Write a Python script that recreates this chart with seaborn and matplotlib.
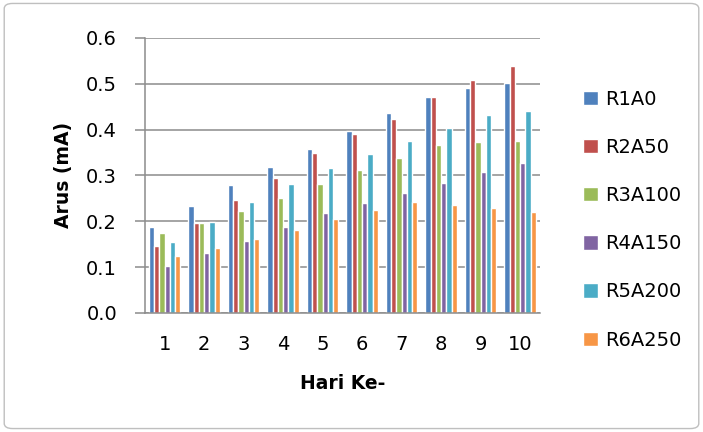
import pandas as pd
import numpy as np
import matplotlib
matplotlib.use("Agg")
import matplotlib.pyplot as plt
import seaborn as sns
from matplotlib.patches import FancyBboxPatch
from matplotlib.ticker import FixedLocator, FormatStrFormatter

# -----------------------------
# Data
# -----------------------------

hari = ["1", "2", "3", "4", "5", "6", "7", "8", "9", "10"]

series_names = ["R1A0", "R2A50", "R3A100", "R4A150", "R5A200", "R6A250"]

r1a0 = [0.188, 0.234, 0.278, 0.319, 0.358, 0.397, 0.436, 0.472, 0.491, 0.502]
r2a50 = [0.146, 0.197, 0.246, 0.295, 0.348, 0.390, 0.422, 0.472, 0.507, 0.539]
r3a100 = [0.174, 0.197, 0.222, 0.251, 0.281, 0.311, 0.339, 0.366, 0.372, 0.374]
r4a150 = [0.102, 0.130, 0.158, 0.188, 0.218, 0.239, 0.262, 0.284, 0.307, 0.328]
r5a200 = [0.155, 0.199, 0.243, 0.282, 0.317, 0.346, 0.374, 0.404, 0.431, 0.441]
r6a250 = [0.124, 0.142, 0.161, 0.182, 0.204, 0.225, 0.241, 0.236, 0.229, 0.221]

colors = ["#4F81BD", "#C0504D", "#9BBB59", "#8064A2", "#4BACC6", "#F79646"]

# -----------------------------
# Long-form table
# -----------------------------

values = [r1a0, r2a50, r3a100, r4a150, r5a200, r6a250]

rows = []
for name, vals in zip(series_names, values):
    for h, v in zip(hari, vals):
        rows.append({"Hari": h, "Seri": name, "Arus": v})

df = pd.DataFrame(rows)

# -----------------------------
# Plot
# -----------------------------

sns.set_style("white")
plt.rcParams['font.family'] = ['DejaVu Sans']
plt.rcParams['text.color'] = 'black'
plt.rcParams['axes.labelcolor'] = 'black'
plt.rcParams['xtick.labelcolor'] = 'black'
plt.rcParams['ytick.labelcolor'] = 'black'

fig = plt.figure(figsize=(7.03, 4.32), dpi=100)
ax = fig.add_axes([0.206, 0.2755, 0.562, 0.637])

sns.barplot(
    data=df,
    x="Hari",
    y="Arus",
    hue="Seri",
    order=hari,
    hue_order=series_names,
    palette=colors,
    width=0.8,
    errorbar=None,
    saturation=1,
    ax=ax,
)

grid_c = "#8c8c8c"

ax.set_ylim(0, 0.6)
ax.set_xlim(-0.5, len(hari) - 0.5)
ax.set_yticks(np.arange(0, 0.61, 0.1))
ax.yaxis.set_major_formatter(FormatStrFormatter("%.1f"))
ax.yaxis.grid(True, color=grid_c, linewidth=1.1)
ax.set_axisbelow(True)

for side in ["top", "right"]:
    ax.spines[side].set_visible(False)
for side in ["left", "bottom"]:
    ax.spines[side].set_color(grid_c)
    ax.spines[side].set_linewidth(1.1)

# category boundary ticks on x
ax.xaxis.set_minor_locator(FixedLocator(np.arange(-0.5, len(hari), 1.0)))
ax.tick_params(axis="x", which="major", length=0, labelsize=14, pad=16,
               labelcolor="black")
ax.tick_params(axis="x", which="minor", length=6, color=grid_c, width=1.1)
ax.tick_params(axis="y", which="major", length=7, color=grid_c, width=1.1,
               labelsize=14, pad=13, left=True, labelcolor="black")

ax.set_xlabel("Hari Ke-", fontsize=13.5, fontweight="bold", va="top",
              color="black")
ax.set_ylabel("Arus (mA)", fontsize=13.5, fontweight="bold", color="black")
ax.xaxis.set_label_coords(0.5, -0.222)
ax.yaxis.set_label_coords(-0.183, 0.5)

leg = ax.legend(
    loc="upper left",
    bbox_to_anchor=(1.065, 0.875),
    frameon=False,
    fontsize=14,
    handlelength=0.75,
    handleheight=0.75,
    handletextpad=0.36,
    labelspacing=1.5,
)
for t in leg.get_texts():
    t.set_color("black")

# outer rounded border
border = FancyBboxPatch(
    (0.006, 0.008), 0.988, 0.984,
    boxstyle="round,pad=0,rounding_size=0.012",
    transform=fig.transFigure,
    facecolor="none",
    edgecolor="#bfbfbf",
    linewidth=1.0,
)
fig.patches.append(border)

fig.savefig("out.png", dpi=100)
